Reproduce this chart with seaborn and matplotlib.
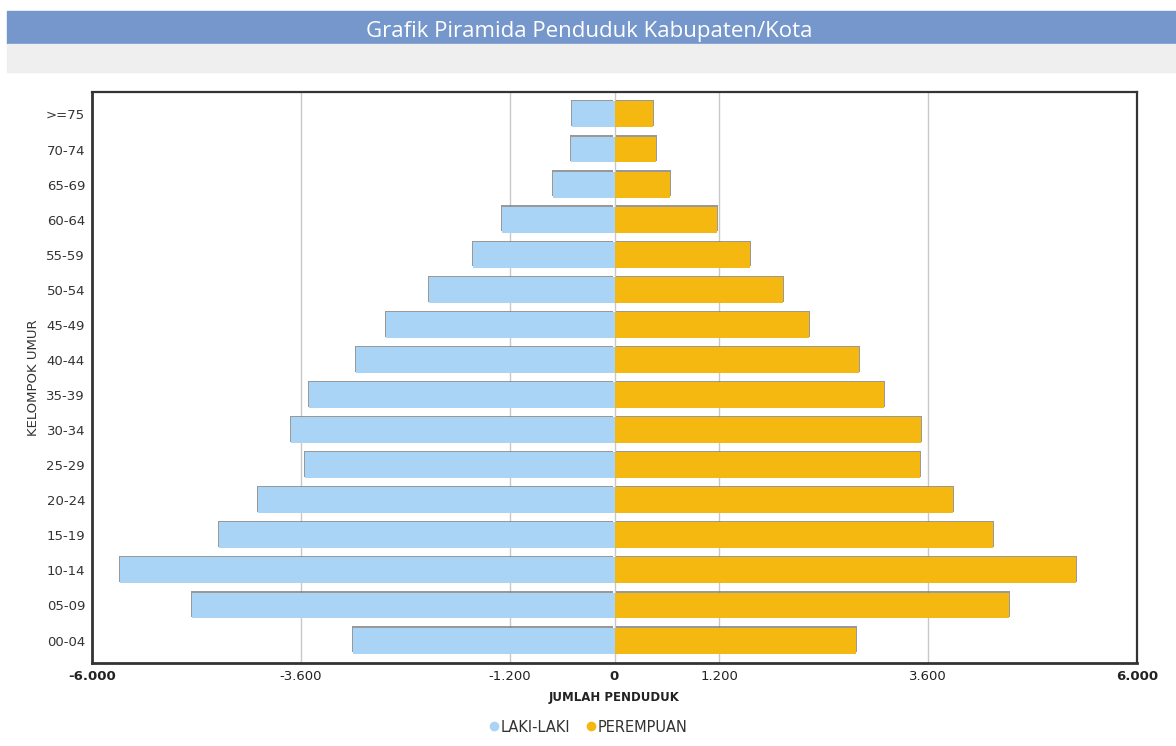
import matplotlib
matplotlib.use("Agg")
import matplotlib.pyplot as plt
import matplotlib.patheffects as pe
from matplotlib.lines import Line2D
from matplotlib.patches import Rectangle
from matplotlib.ticker import FuncFormatter
import pandas as pd
import seaborn as sns

# Age groups, oldest at the top
age_groups = [">=75", "70-74", "65-69", "60-64", "55-59", "50-54", "45-49", "40-44",
              "35-39", "30-34", "25-29", "20-24", "15-19", "10-14", "05-09", "00-04"]
male = [488, 500, 706, 1292, 1625, 2130, 2623, 2967,
        3507, 3714, 3553, 4093, 4540, 5677, 4851, 3002]
female = [442, 476, 637, 1177, 1556, 1935, 2233, 2808,
          3094, 3519, 3511, 3882, 4343, 5298, 4530, 2770]
series_names = ["LAKI-LAKI", "PEREMPUAN"]
x_ticks = [-6000, -3600, -1200, 0, 1200, 3600, 6000]

COL_M = "#a9d4f5"
COL_F = "#f4b811"

df = pd.concat([
    pd.DataFrame({"umur": age_groups, "jumlah": [-v for v in male], "jk": series_names[0]}),
    pd.DataFrame({"umur": age_groups, "jumlah": female, "jk": series_names[1]}),
])

sns.set_theme(style="white")
plt.rcParams["font.family"] = ["DejaVu Sans"]

fig = plt.figure(figsize=(11.76, 7.46), dpi=100)
fig.patch.set_facecolor("white")

# Header bands
fig.patches.append(Rectangle((7 / 1176, 1 - 44 / 746), 1 - 7 / 1176, 33 / 746,
                             transform=fig.transFigure, color="#7597cb", zorder=0))
fig.patches.append(Rectangle((7 / 1176, 1 - 72 / 746), 1 - 7 / 1176, 28 / 746,
                             transform=fig.transFigure, color="#efefef", zorder=0))
fig.text(589 / 1176, 1 - 31 / 746, "Grafik Piramida Penduduk Kabupaten/Kota",
         ha="center", va="center", color="white", fontsize=16, family="Open Sans")

ax = fig.add_axes([92 / 1176, 83 / 746, 1045 / 1176, 571 / 746])
sns.barplot(data=df, x="jumlah", y="umur", hue="jk", order=age_groups,
            hue_order=series_names, palette=[COL_M, COL_F], dodge=False,
            width=0.74, legend=False, saturation=1, ax=ax, zorder=3,
            edgecolor="none", linewidth=0)

for bar in ax.patches:
    w = bar.get_width()
    dx = -0.9 if w < 0 else 0.9
    bar.set_path_effects([pe.SimplePatchShadow(offset=(dx, 0.9), shadow_rgbFace="#808080", alpha=0.8),
                          pe.Normal()])

ax.set_xlim(-6000, 6000)
ax.set_ylim(len(age_groups) - 1 + 0.64, -0.64)
ax.set_xticks(x_ticks)
ax.xaxis.set_major_formatter(FuncFormatter(lambda v, p: f"{int(v):,}".replace(",", ".")))
ax.grid(axis="x", color="#c8c8c8", linewidth=1)
ax.grid(axis="y", visible=False)
ax.set_axisbelow(True)

for lbl, v in zip(ax.get_xticklabels(), x_ticks):
    if v in (-6000, 0, 6000):
        lbl.set_fontweight("bold")
ax.tick_params(axis="x", labelsize=9.5, labelcolor="#222222", pad=5, length=0)
ax.tick_params(axis="y", labelsize=9.5, labelcolor="#333333", pad=5, length=0)

for side, sp in ax.spines.items():
    sp.set_visible(True)
    sp.set_color("#333333")
    sp.set_linewidth(2.0 if side in ("left", "bottom") else 1.6)

ax.set_xlabel("JUMLAH PENDUDUK", fontsize=8.5, fontweight="bold", color="#222222", labelpad=6)
ax.set_ylabel("KELOMPOK UMUR", fontsize=9.5, color="#333333", labelpad=4)

handles = [Line2D([], [], marker="o", linestyle="", markersize=7, color=COL_M, markeredgewidth=0),
           Line2D([], [], marker="o", linestyle="", markersize=7, color=COL_F, markeredgewidth=0)]
fig.legend(handles, series_names, loc="center", bbox_to_anchor=(588 / 1176, 1 - 727 / 746),
           ncol=2, frameon=False, fontsize=10.5, handletextpad=0.05, columnspacing=1.0,
           handlelength=0.8, labelcolor="#333333")

fig.savefig("out.png", dpi=100, facecolor="white")
